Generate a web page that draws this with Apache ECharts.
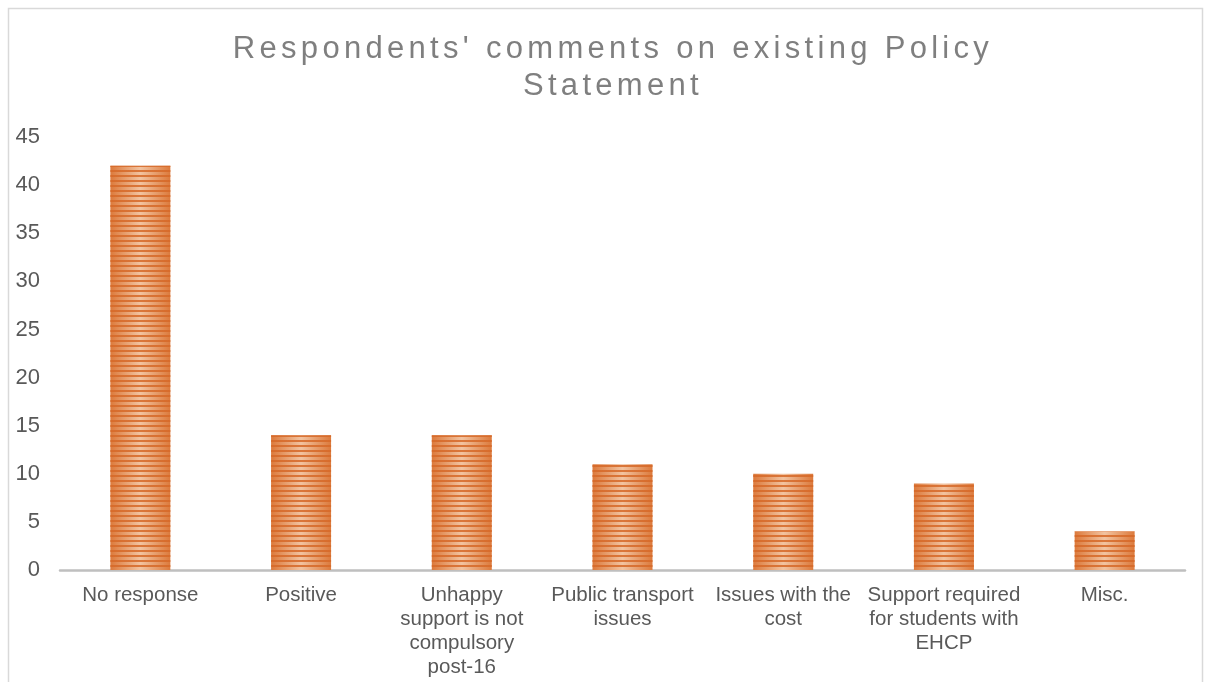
<!DOCTYPE html>
<html><head><meta charset="utf-8">
<script src="https://cdn.jsdelivr.net/npm/echarts@6/dist/echarts.min.js"></script>
<style>
html,body{margin:0;padding:0;background:#fff;}
#wrap{position:relative;width:1211px;height:682px;overflow:hidden;}
#chart{position:absolute;left:0;top:0;width:1211px;height:682px;}
#title{position:absolute;left:0;top:29px;width:1226px;text-align:center;font-family:"Liberation Sans",Arial,sans-serif;font-size:31px;line-height:37px;color:#7f7f7f;letter-spacing:4.3px;}
</style></head>
<body><div id="wrap"><div id="chart"></div><div id="title">Respondents' comments on existing Policy<br>Statement</div></div>
<script>
const titleText = "Respondents' comments on existing Policy Statement";
const categories = ["No response","Positive","Unhappy\nsupport is not\ncompulsory\npost-16","Public transport\nissues","Issues with the\ncost","Support required\nfor students with\nEHCP","Misc."];
const values = [42,14,14,11,10,9,4];
const yTicks = [0,5,10,15,20,25,30,35,40,45];

const chart = echarts.init(document.getElementById('chart'));
chart.setOption({
  animation:false,
  aria:{decal:{show:true}},
  graphic:[{type:'rect',shape:{x:8.5,y:8.5,width:1194,height:720},style:{fill:'none',stroke:'#d9d9d9',lineWidth:1.5},silent:true}],
  grid:{left:60,right:26,top:137,bottom:112},
  xAxis:{type:'category',data:categories,
    axisLine:{lineStyle:{color:'#bfbfbf',width:2.5}},axisTick:{show:false},
    axisLabel:{color:'#595959',fontSize:20.5,fontFamily:'Liberation Sans, Arial, sans-serif',lineHeight:24,margin:13,interval:0}},
  yAxis:{type:'value',min:yTicks[0],max:yTicks[yTicks.length-1],interval:5,
    splitLine:{show:false},axisLine:{show:false},axisTick:{show:false},
    axisLabel:{color:'#595959',fontSize:22,fontFamily:'Liberation Sans, Arial, sans-serif',margin:20}},
  series:[{type:'bar',data:values,barWidth:60,
    itemStyle:{
      color:new echarts.graphic.LinearGradient(0,0,1,0,[
        {offset:0,color:'#dc7a3c'},{offset:0.5,color:'#f2c3a0'},{offset:1,color:'#dc7a3c'}]),
      decal:{symbol:'rect',symbolSize:1,dashArrayX:[1,0],dashArrayY:[2,2.2],color:'rgba(214,104,40,0.85)',rotation:0}
    }}]
});
</script></body></html>
